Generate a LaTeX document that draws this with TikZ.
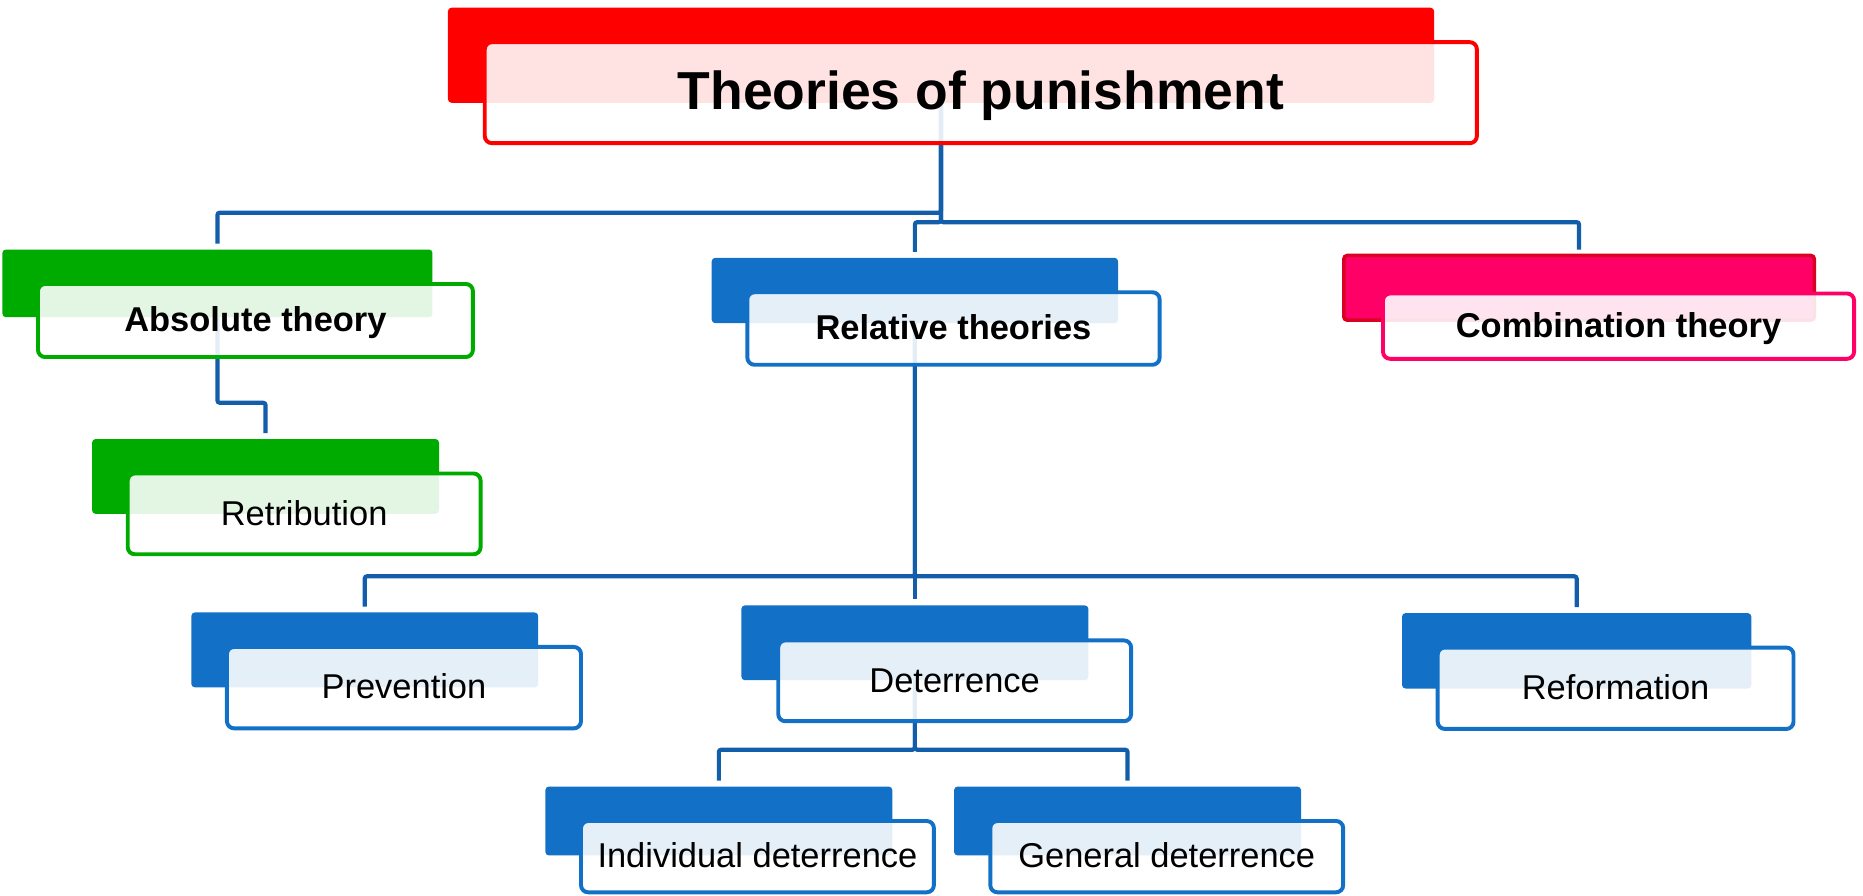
\documentclass[tikz,border=0pt]{standalone}
\usepackage{fontspec}
\setmainfont{Liberation Sans}
\usetikzlibrary{backgrounds}
\definecolor{topred}{HTML}{FF0000}
\definecolor{absgreen}{HTML}{00AB00}
\definecolor{relblue}{HTML}{1270C6}
\definecolor{combpink}{HTML}{FF0066}
\definecolor{combedge}{HTML}{DA0022}
\definecolor{linkblue}{HTML}{125EAA}
\tikzset{
	backbox/.style={rectangle, rounded corners=3pt, inner sep=0pt, outer sep=0pt, anchor=north west, fill=#1},
	frontbox/.style={rectangle, rounded corners=6pt, inner sep=0pt, outer sep=0pt, anchor=north west, line width=3.3pt, draw=#1, fill=white, fill opacity=0.89, text opacity=1, font=\fontsize{29}{31}\selectfont, text height=23pt, text depth=4pt},
	headtext/.style={font=\fontsize{29}{31}\selectfont\bfseries},
	link/.style={draw=linkblue, line width=3.5pt, rounded corners=2pt, shorten >=5pt},
}
\begin{document}
\begin{tikzpicture}[x=1pt, y=-1pt]
	\useasboundingbox (0,0) rectangle (1568,754);
	% top
	\node[backbox=topred, minimum width=830pt, minimum height=80pt] (titleb) at (377,6.5) {};
	\node[frontbox=topred, minimum width=835pt, minimum height=85pt, font=\fontsize{45}{50}\selectfont\bfseries, text height=36pt, text depth=7pt] (title) at ([shift={(31,29)}]titleb.north west) {Theories of punishment};
	% first level
	\node[backbox=absgreen, minimum width=362pt, minimum height=57pt] (absb) at (2,210) {};
	\node[frontbox=absgreen, headtext, minimum width=366pt, minimum height=61.5pt] (abs) at ([shift={(30,29)}]absb.north west) {Absolute theory};
	\node[backbox=relblue, minimum width=342pt, minimum height=55pt] (relb) at (599,217) {};
	\node[frontbox=relblue, headtext, minimum width=347pt, minimum height=61pt] (rel) at ([shift={(30,29)}]relb.north west) {Relative theories};
	\node[backbox=combpink, draw=combedge, line width=3pt, minimum width=396pt, minimum height=54.5pt] (combb) at (1131,215) {};
	\node[frontbox=combpink, headtext, minimum width=396.5pt, minimum height=55pt] (comb) at ([shift={(33,32)}]combb.north west) {Combination theory};
	% second level
	\node[backbox=absgreen, minimum width=292pt, minimum height=63pt] (retb) at (77.5,369.5) {};
	\node[frontbox=absgreen, minimum width=297pt, minimum height=68pt] (ret) at ([shift={(30,29)}]retb.north west) {Retribution};
	\node[backbox=relblue, minimum width=292pt, minimum height=63pt] (prevb) at (161,515.5) {};
	\node[frontbox=relblue, minimum width=298pt, minimum height=68.5pt] (prev) at ([shift={(30,29)}]prevb.north west) {Prevention};
	\node[backbox=relblue, minimum width=292pt, minimum height=63pt] (deterb) at (624,509.5) {};
	\node[frontbox=relblue, minimum width=297pt, minimum height=68pt] (deter) at ([shift={(31,29.5)}]deterb.north west) {Deterrence};
	\node[backbox=relblue, minimum width=294pt, minimum height=63.5pt] (reformb) at (1180,516) {};
	\node[frontbox=relblue, minimum width=299.5pt, minimum height=68.5pt] (reform) at ([shift={(30,29)}]reformb.north west) {Reformation};
	% third level
	\node[backbox=relblue, minimum width=292pt, minimum height=58pt] (indivb) at (459,662) {};
	\node[frontbox=relblue, minimum width=297pt, minimum height=60pt] (indiv) at ([shift={(30,29)}]indivb.north west) {Individual deterrence};
	\node[backbox=relblue, minimum width=292pt, minimum height=58pt] (genb) at (803,662) {};
	\node[frontbox=relblue, minimum width=297pt, minimum height=60pt] (gen) at ([shift={(30.5,29)}]genb.north west) {General deterrence};
	% connectors
	\begin{scope}[on background layer]
		\draw[link] (titleb.south) -- (titleb.south |- 0,179) -| (absb.north);
		\draw[link] (titleb.south) -- (titleb.south |- 0,187) -| (relb.north);
		\draw[link] (titleb.south) -- (titleb.south |- 0,187) -| (combb.north);
		\draw[link] (absb.south) -- (absb.south |- 0,339) -| (retb.north);
		\draw[link] (relb.south) -- (relb.south |- 0,485) -| (prevb.north);
		\draw[link] (relb.south) -- (deterb.north);
		\draw[link] (relb.south) -- (relb.south |- 0,485) -| (reformb.north);
		\draw[link] (deterb.south) -- (deterb.south |- 0,631) -| (indivb.north);
		\draw[link] (deterb.south) -- (deterb.south |- 0,631) -| (genb.north);
	\end{scope}
\end{tikzpicture}
\end{document}
